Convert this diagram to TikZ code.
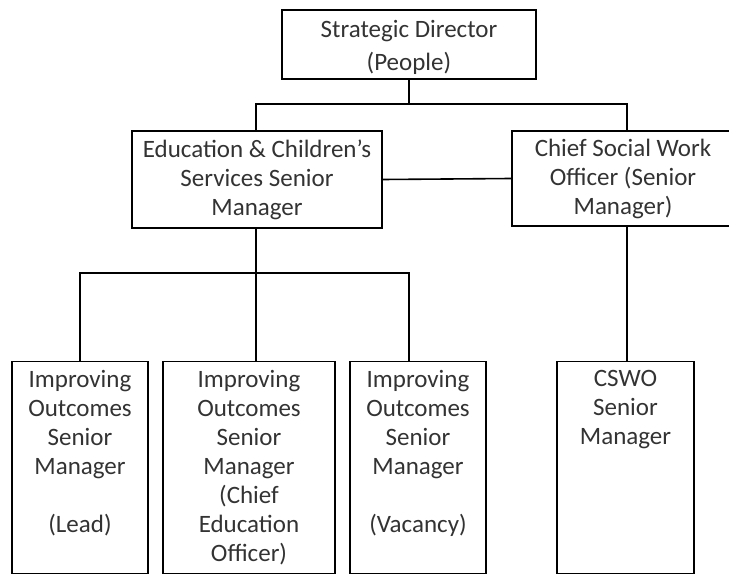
\documentclass[tikz,border=0pt]{standalone}
\usepackage{fontspec}
\setmainfont{Carlito}
\usetikzlibrary{calc}
\begin{document}
\begin{tikzpicture}[x=1pt,y=-1pt,
  every node/.style={font=\fontsize{25}{29}\selectfont, text=black!80},
  box/.style={draw=black, line width=1.6pt, inner sep=0pt, align=center},
  link/.style={draw=black, line width=1.6pt}]
  \useasboundingbox (0,0) rectangle (729,575);
  % upper tier
  \node[box, minimum width=254pt, minimum height=69pt] (dir) at (409,44.5)
    {\rule{0pt}{24pt}Strategic Director\\[4pt](People)};
  \node[box, minimum width=250pt, minimum height=97pt] (edu) at (257,179.5)
    {Education \& Children’s\\Services Senior\\Manager};
  \node[box, minimum width=222pt, minimum height=95pt] (csw) at (623,178.5)
    {Chief Social Work\\Officer (Senior\\Manager)};
  % lower tier: text sits at the top of each box
  \newcommand{\topbox}[2]{\parbox[c][212pt][t]{#1}{\centering\vspace{9pt}#2}}
  \node[box, minimum width=136pt] (im1) at (80,467.5)
    {\topbox{136pt}{Improving\\Outcomes\\Senior\\Manager\\[29pt](Lead)}};
  \node[box, minimum width=172pt] (im2) at (249,467.5)
    {\topbox{172pt}{Improving\\Outcomes\\Senior\\Manager\\(Chief\\Education\\Officer)}};
  \node[box, minimum width=136pt] (im3) at (418,467.5)
    {\topbox{136pt}{Improving\\Outcomes\\Senior\\Manager\\[29pt](Vacancy)}};
  \node[box, minimum width=137pt] (cswo) at (625.5,467.5)
    {\topbox{137pt}{CSWO\\Senior\\Manager}};
  % junctions
  \coordinate (j1) at (409,104);
  \coordinate (j2) at (256,273);
  % connectors
  \draw[link] (dir.south) -- (j1);
  \draw[link] (edu.north -| j2) |- (j1) -| (csw.north -| 627,0);
  \draw[link] (edu.east) -- (csw.west);
  \draw[link] (edu.south -| j2) -- (j2);
  \draw[link] (im1.north) |- (j2) -| (im3.north -| j1);
  \draw[link] (j2) -- (im2.north -| j2);
  \draw[link] (csw.south -| 627,0) -- (cswo.north -| 627,0);
\end{tikzpicture}
\end{document}
